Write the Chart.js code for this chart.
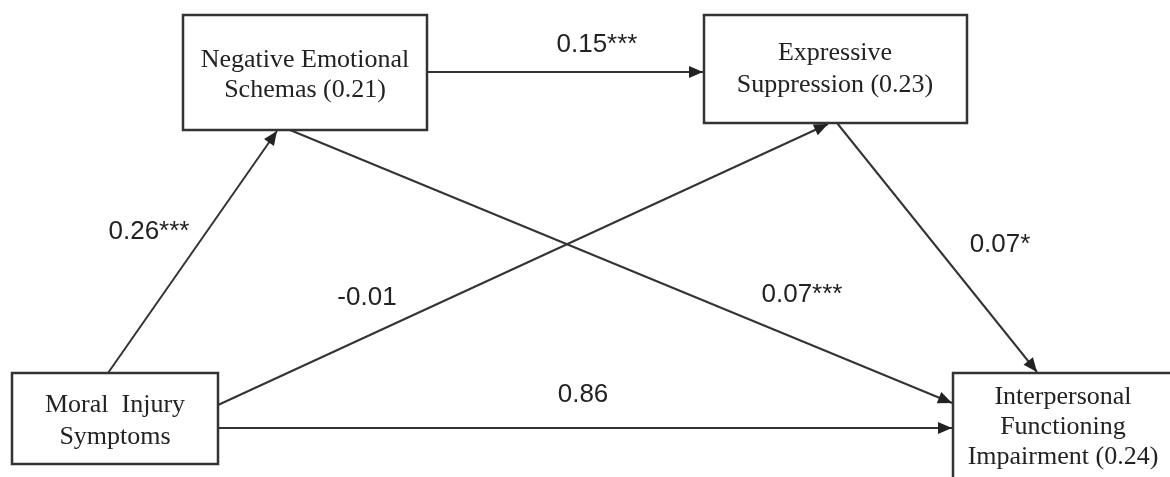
<!DOCTYPE html>
<html>
<head>
<meta charset="utf-8">
<script src="https://cdn.jsdelivr.net/npm/chart.js@4"></script>
<style>
  html, body { margin: 0; padding: 0; background: #fff; }
  #wrap { width: 1170px; height: 477px; position: relative; }
</style>
</head>
<body>
<div id="wrap"><canvas id="path-chart"></canvas></div>
<script>
// node labels (one array entry per text line)
var nodeNames = [
    ["Negative Emotional", "Schemas (0.21)"],
    ["Expressive", "Suppression (0.23)"],
    ["Moral  Injury", "Symptoms"],
    ["Interpersonal", "Functioning", "Impairment (0.24)"]
];
// path coefficients
var pathFrom = [2, 0, 2, 0, 1, 2];
var pathTo = [0, 1, 1, 3, 3, 3];
var pathCoef = ["0.26***", "0.15***", "-0.01", "0.07***", "0.07*", "0.86"];

// layout (data units == pixels of the 1170x477 picture)
var boxes = [[183, 15, 427, 130], [704, 15, 967, 123], [12, 373, 218, 464], [953, 373, 1185, 495]];
var textPos = [[305, 60, 30], [835, 53, 32], [115, 405, 32], [1063, 397, 30]];
var pathEnds = [
    [108, 373, 277, 131], [427, 72, 703, 72], [218, 405, 828, 124],
    [290, 130, 952, 403], [837, 123, 1037, 372], [218, 428, 952, 428]
];
var labelPos = [[149, 232], [597, 45], [367, 298], [802, 295], [1000, 245], [583, 395]];

var datasets = pathCoef.map(function (c, i) {
    var e = pathEnds[i];
    return {
        label: nodeNames[pathFrom[i]].join(" ") + " -> " + nodeNames[pathTo[i]].join(" "),
        data: [{x: e[0], y: e[1]}, {x: e[2], y: e[3]}],
        showLine: true,
        borderColor: "#333",
        borderWidth: 2,
        pointRadius: 0,
        pointHoverRadius: 0
    };
});

var diagramPlugin = {
    id: "diagram",
    afterDatasetsDraw: function (chart) {
        var ctx = chart.ctx, xs = chart.scales.x, ys = chart.scales.y;
        ctx.save();
        // boxes
        ctx.strokeStyle = "#333";
        ctx.lineWidth = 2.5;
        boxes.forEach(function (b) {
            var x0 = xs.getPixelForValue(b[0]), y0 = ys.getPixelForValue(b[1]);
            var x1 = xs.getPixelForValue(b[2]), y1 = ys.getPixelForValue(b[3]);
            ctx.fillStyle = "#fff";
            ctx.fillRect(x0, y0, x1 - x0, y1 - y0);
            ctx.strokeRect(x0, y0, x1 - x0, y1 - y0);
        });
        // box texts
        ctx.fillStyle = "#222";
        ctx.textAlign = "center";
        ctx.textBaseline = "middle";
        ctx.font = "26px 'Liberation Serif'";
        nodeNames.forEach(function (lines, i) {
            var t = textPos[i];
            lines.forEach(function (ln, j) {
                ctx.fillText(ln, xs.getPixelForValue(t[0]), ys.getPixelForValue(t[1] + j * t[2]));
            });
        });
        // arrow heads
        ctx.fillStyle = "#222";
        chart.data.datasets.forEach(function (ds, i) {
            var pts = chart.getDatasetMeta(i).data;
            var a = pts[0], b = pts[1];
            var ang = Math.atan2(b.y - a.y, b.x - a.x);
            var len = 14, w = 6;
            ctx.beginPath();
            ctx.moveTo(b.x, b.y);
            ctx.lineTo(b.x - len * Math.cos(ang) + w * Math.sin(ang), b.y - len * Math.sin(ang) - w * Math.cos(ang));
            ctx.lineTo(b.x - len * Math.cos(ang) - w * Math.sin(ang), b.y - len * Math.sin(ang) + w * Math.cos(ang));
            ctx.closePath();
            ctx.fill();
        });
        // coefficient labels
        ctx.font = "26px 'Liberation Sans'";
        pathCoef.forEach(function (c, i) {
            var p = labelPos[i];
            ctx.fillText(c, xs.getPixelForValue(p[0]), ys.getPixelForValue(p[1]));
        });
        ctx.restore();
    }
};

new Chart(document.getElementById("path-chart").getContext("2d"), {
    type: "scatter",
    data: {datasets: datasets},
    options: {
        responsive: true,
        maintainAspectRatio: false,
        animation: false,
        layout: {padding: 0},
        plugins: {legend: {display: false}, tooltip: {enabled: false}},
        scales: {
            x: {type: "linear", min: 0, max: 1170, display: false},
            y: {type: "linear", min: 0, max: 477, reverse: true, display: false}
        }
    },
    plugins: [diagramPlugin]
});
</script>
</body>
</html>
